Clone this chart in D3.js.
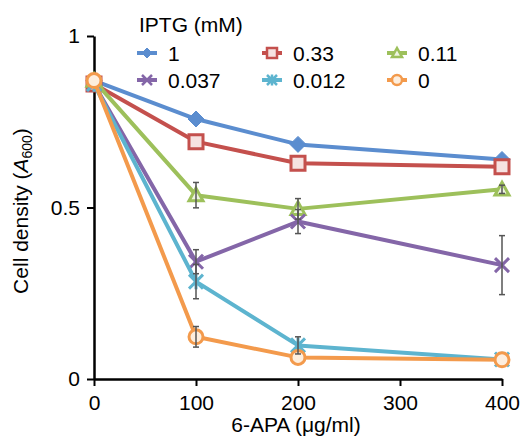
<!DOCTYPE html>
<html>
<head>
<meta charset="utf-8">
<script src="https://cdn.jsdelivr.net/npm/d3@7"></script>
<style>
body{margin:0;background:#fff;}
text{font-family:"Liberation Sans",Arial,Helvetica,sans-serif;fill:#000;}
</style>
</head>
<body>
<div id="chart"></div>
<script>
// x values (6-APA, ug/ml)
var doses = [0, 100, 200, 400];

// IPTG concentrations (legend labels)
var iptg_labels = ["1", "0.33", "0.11", "0.037", "0.012", "0"];
var colors = ["#5b8dcf", "#c4504d", "#9dc05b", "#8466a8", "#5db4cf", "#f39a4c"];
var fills = ["#5b8dcf", "#f6e2e1", "#eef5e1", "#8466a8", "#5db4cf", "#fdeede"];
var shapes = ["diamond", "square", "triangle", "x", "star", "circle"];

// cell density A600, one array per IPTG level
var od_1     = [0.87, 0.758, 0.684, 0.640];
var od_033   = [0.86, 0.692, 0.629, 0.619];
var od_011   = [0.87, 0.536, 0.496, 0.553];
var od_0037  = [0.86, 0.342, 0.459, 0.332];
var od_0012  = [0.86, 0.284, 0.098, 0.057];
var od_0     = [0.87, 0.123, 0.063, 0.056];

// error bars (+/-)
var err_1    = [0, 0, 0, 0];
var err_033  = [0, 0, 0, 0];
var err_011  = [0, 0.037, 0.03, 0.012];
var err_0037 = [0, 0.035, 0.035, 0.086];
var err_0012 = [0, 0.05, 0.025, 0];
var err_0    = [0, 0.03, 0, 0];

var series_vals = [od_1, od_033, od_011, od_0037, od_0012, od_0];
var series_errs = [err_1, err_033, err_011, err_0037, err_0012, err_0];

var width = 521, height = 437;

var svg = d3.select("#chart").append("svg")
	.attr("width", width)
	.attr("height", height);

var x = d3.scaleLinear().domain([0, 400]).range([94, 502]);
var y = d3.scaleLinear().domain([0, 1]).range([379, 36]);

function marker_path(shape, s){
	// s = half size
	if(shape == "diamond"){
		return "M0," + (-s) + "L" + s + ",0L0," + s + "L" + (-s) + ",0Z";
	}
	if(shape == "square"){
		return "M" + (-s) + "," + (-s) + "H" + s + "V" + s + "H" + (-s) + "Z";
	}
	if(shape == "triangle"){
		return "M0," + (-s) + "L" + s + "," + (s * 0.8) + "L" + (-s) + "," + (s * 0.8) + "Z";
	}
	if(shape == "x"){
		return "M" + (-s) + "," + (-s) + "L" + s + "," + s + "M" + s + "," + (-s) + "L" + (-s) + "," + s;
	}
	if(shape == "star"){
		return "M" + (-s) + "," + (-s) + "L" + s + "," + s + "M" + s + "," + (-s) + "L" + (-s) + "," + s +
			"M0," + (-s * 1.1) + "V" + (s * 1.1);
	}
	// circle
	return "M" + s + ",0A" + s + "," + s + " 0 1,1 " + (-s) + ",0A" + s + "," + s + " 0 1,1 " + s + ",0Z";
}

function draw_marker(g, i, cx, cy, s, sw){
	var shape = shapes[i];
	var open = (shape == "x" || shape == "star");
	g.append("path")
		.attr("transform", "translate(" + cx + "," + cy + ")")
		.attr("d", marker_path(shape, s))
		.attr("fill", open ? "none" : fills[i])
		.attr("stroke", colors[i])
		.attr("stroke-width", sw)
		.attr("stroke-linejoin", "miter");
}

// axes
var xAxis = d3.axisBottom(x).tickValues([0, 100, 200, 300, 400])
	.tickSizeInner(7).tickSizeOuter(0).tickPadding(9);
var yAxis = d3.axisLeft(y).tickValues([0, 0.5, 1])
	.tickSizeInner(7).tickSizeOuter(0).tickPadding(7)
	.tickFormat(function(d){ return d == 0 ? "0" : (d == 1 ? "1" : "0.5"); });

var gx = svg.append("g").attr("transform", "translate(0," + y(0) + ")").call(xAxis);
var gy = svg.append("g").attr("transform", "translate(" + x(0) + ",0)").call(yAxis);
[gx, gy].forEach(function(g){
	g.select(".domain").attr("stroke", "#000").attr("stroke-width", 2.5);
	g.selectAll(".tick line").attr("stroke", "#000").attr("stroke-width", 2);
	g.selectAll(".tick text").attr("font-size", 21)
		.attr("font-family", "Liberation Sans, Arial, sans-serif").attr("fill", "#000");
});

// axis titles
svg.append("text")
	.attr("x", 296).attr("y", 432)
	.attr("text-anchor", "middle")
	.attr("font-size", 21)
	.text("6-APA (\u03bcg/ml)");

var ylab = svg.append("text")
	.attr("transform", "translate(28,211) rotate(-90)")
	.attr("text-anchor", "middle")
	.attr("font-size", 21);
ylab.append("tspan").text("Cell density (");
ylab.append("tspan").attr("font-style", "italic").text("A");
ylab.append("tspan").attr("font-size", 14).attr("dy", 4).text("600");
ylab.append("tspan").attr("dy", -4).text(")");

// series
var line = d3.line()
	.x(function(d){ return x(d[0]); })
	.y(function(d){ return y(d[1]); });

var plot = svg.append("g");
series_vals.forEach(function(vals, i){
	var pts = doses.map(function(dx, j){ return [dx, vals[j]]; });
	plot.append("path")
		.attr("d", line(pts))
		.attr("fill", "none")
		.attr("stroke", colors[i])
		.attr("stroke-width", 4)
		.attr("stroke-linejoin", "round");
	pts.forEach(function(p){
		var s = shapes[i] == "diamond" ? 8 : (shapes[i] == "circle" ? 7 : 7);
		draw_marker(plot, i, x(p[0]), y(p[1]), s, shapes[i] == "diamond" ? 1 : 3);
	});
});

// error bars
var ebars = svg.append("g").attr("stroke", "#555").attr("stroke-width", 1.5);
series_vals.forEach(function(vals, i){
	vals.forEach(function(v, j){
		var e = series_errs[i][j];
		if(!e) return;
		var cx = x(doses[j]);
		ebars.append("line").attr("x1", cx).attr("x2", cx).attr("y1", y(v - e)).attr("y2", y(v + e));
		ebars.append("line").attr("x1", cx - 3).attr("x2", cx + 3).attr("y1", y(v - e)).attr("y2", y(v - e));
		ebars.append("line").attr("x1", cx - 3).attr("x2", cx + 3).attr("y1", y(v + e)).attr("y2", y(v + e));
	});
});

// legend
var legend = svg.append("g");
legend.append("text").attr("x", 139).attr("y", 32).attr("font-size", 21).text("IPTG (mM)");
iptg_labels.forEach(function(lab, i){
	var col = i % 3, row = Math.floor(i / 3);
	var cx = 147 + col * 125, cy = 53 + row * 27;
	legend.append("line")
		.attr("x1", cx - 10).attr("x2", cx + 10)
		.attr("y1", cy).attr("y2", cy)
		.attr("stroke", colors[i]).attr("stroke-width", 4);
	draw_marker(legend, i, cx, cy, 5, shapes[i] == "diamond" ? 1 : 2.5);
	legend.append("text")
		.attr("x", cx + 21).attr("y", cy + 7.5)
		.attr("font-size", 21)
		.text(lab);
});
</script>
</body>
</html>
